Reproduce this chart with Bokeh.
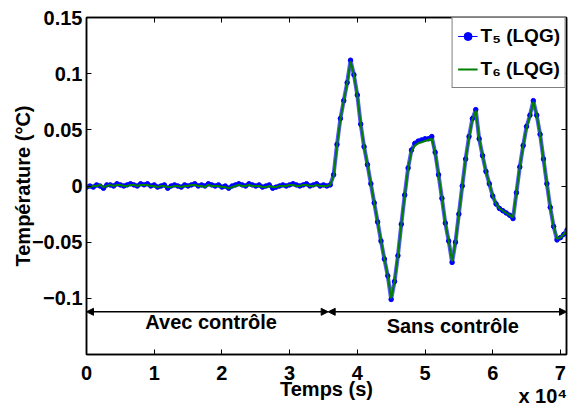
from bokeh.plotting import figure
from bokeh.models import (Label, Arrow, NormalHead, Legend, LegendItem,
                          LinearAxis, FixedTicker, ColumnDataSource)
from bokeh.embed import file_html
from bokeh.resources import INLINE

# ---------------- data ----------------
sample_step_s = 500  # one sample every 500 s

# T5 (LQG) : 0 .. 36000 s (with control), then 36500 .. 71000 s (without)
T5_with_control = [
    -0.001, 0.000, -0.001, 0.001, 0.000, -0.002, 0.001, 0.001, 0.000, 0.002,
    0.001, 0.000, 0.001, 0.002, 0.001, 0.000, 0.002, 0.001, 0.002, 0.000,
    0.001, -0.001, 0.000, 0.001, -0.002, 0.000, 0.001, 0.000, -0.001, 0.001,
    0.000, 0.001, 0.002, 0.000, 0.001, 0.000, 0.002, 0.001, 0.000, 0.001,
    -0.001, 0.000, -0.002, 0.000, 0.001, 0.002, 0.001, 0.000, 0.002, 0.001,
    0.000, 0.001, -0.001, 0.000, 0.001, -0.002, -0.001, 0.000, 0.001, 0.000,
    0.001, 0.002, 0.001, 0.000, 0.001, 0.002, 0.000, 0.001, 0.002, 0.000,
    0.001, 0.000, 0.001,
]
T5_without_control = [
    0.010, 0.037, 0.060, 0.076, 0.092, 0.112, 0.099, 0.081, 0.055, 0.035,
    0.019, 0.002, -0.015, -0.032, -0.049, -0.065, -0.080, -0.101, -0.085, -0.062,
    -0.034, -0.008, 0.016, 0.032, 0.038, 0.040, 0.041, 0.042, 0.042, 0.044,
    0.030, 0.010, -0.011, -0.033, -0.049, -0.068, -0.050, -0.025, 0.000, 0.024,
    0.044, 0.060, 0.068, 0.042, 0.027, 0.013, 0.002, -0.009, -0.016, -0.020,
    -0.022, -0.024, -0.026, -0.029, -0.006, 0.017, 0.036, 0.053, 0.063, 0.076,
    0.063, 0.046, 0.024, 0.002, -0.019, -0.036, -0.048, -0.046, -0.043, -0.039,
]

T6_with_control = [
    0.000, -0.001, 0.000, 0.000, 0.001, -0.001, 0.000, 0.001, 0.000, 0.001,
    0.001, 0.000, 0.000, 0.001, 0.001, 0.000, 0.001, 0.001, 0.001, 0.000,
    0.000, -0.001, 0.000, 0.000, -0.001, -0.001, 0.000, 0.000, -0.001, 0.000,
    0.000, 0.001, 0.001, 0.000, 0.000, -0.001, 0.001, 0.000, 0.000, 0.000,
    -0.001, -0.001, -0.002, -0.001, 0.000, 0.001, 0.000, 0.000, 0.001, 0.000,
    0.000, 0.000, -0.001, -0.001, 0.000, -0.001, -0.001, 0.000, 0.000, 0.000,
    0.001, 0.001, 0.000, 0.000, 0.001, 0.001, 0.000, 0.000, 0.001, 0.000,
    0.000, 0.000, 0.001,
]
T6_without_control = [
    0.009, 0.036, 0.059, 0.076, 0.091, 0.111, 0.099, 0.080, 0.055, 0.035,
    0.019, 0.002, -0.015, -0.032, -0.049, -0.065, -0.080, -0.100, -0.085, -0.062,
    -0.034, -0.009, 0.015, 0.031, 0.036, 0.038, 0.039, 0.040, 0.041, 0.042,
    0.029, 0.010, -0.011, -0.033, -0.049, -0.067, -0.050, -0.025, 0.000, 0.024,
    0.043, 0.059, 0.067, 0.042, 0.027, 0.013, 0.002, -0.009, -0.016, -0.020,
    -0.022, -0.024, -0.026, -0.028, -0.006, 0.017, 0.036, 0.052, 0.062, 0.075,
    0.063, 0.046, 0.024, 0.002, -0.019, -0.036, -0.047, -0.046, -0.043, -0.039,
]

T5 = T5_with_control + T5_without_control
T6 = T6_with_control + T6_without_control
time_s = [sample_step_s * i for i in range(len(T5))]

x_tick_values = [0, 10000, 20000, 30000, 40000, 50000, 60000, 70000]
x_tick_labels = ["0", "1", "2", "3", "4", "5", "6", "7"]
y_tick_values = [-0.1, -0.05, 0, 0.05, 0.1, 0.15]
y_tick_labels = ["\u22120.1", "\u22120.05", "0", "0.05", "0.1", "0.15"]

x_limits = (0, 70900)
y_limits = (-0.15, 0.15)

control_switch_s = 35700
arrow_level = -0.112
region_labels = ["Avec contr\u00f4le", "Sans contr\u00f4le"]
region_label_x = [18400, 54100]
region_label_y = [-0.1215, -0.1245]

series_labels = ["T\u2085 (LQG)", "T\u2086 (LQG)"]
x_title = "Temps (s)"
x_scale_note = "x 10\u2074"
x_scale_note_at = 67400
y_title = "Temp\u00e9rature (\u00b0C)"

# ---------------- figure ----------------
FONT = "Liberation Sans"
FS = "20px"

p = figure(width=568, height=409, x_range=x_limits, y_range=y_limits,
           output_backend="svg", toolbar_location=None, title=None,
           min_border_left=86, min_border_right=2, min_border_top=17,
           min_border_bottom=54)
p.xgrid.visible = False
p.ygrid.visible = False
p.outline_line_color = "black"
p.outline_line_width = 1.5
p.background_fill_color = "white"
p.border_fill_color = "white"

src = ColumnDataSource(dict(t=time_s, T5=T5, T6=T6))
halo = p.line("t", "T5", source=src, line_color="#2020ff", line_width=4,
              line_alpha=0.75)
l5 = p.line("t", "T5", source=src, line_color="#0000ff", line_width=1)
s5 = p.scatter("t", "T5", source=src, size=4.5, fill_color="#0000ff",
               line_color="#0000ff")
l6 = p.line("t", "T6", source=src, line_color="#008000", line_width=2)

axis_text = dict(major_label_text_font=FONT,
                 major_label_text_font_style="bold",
                 major_label_text_font_size=FS,
                 major_label_text_color="black",
                 axis_label_text_font=FONT,
                 axis_label_text_font_style="bold",
                 axis_label_text_font_size=FS,
                 axis_label_text_color="black")

xa = p.xaxis[0]
ya = p.yaxis[0]
for ax, ticks, labels in ((xa, x_tick_values, x_tick_labels),
                          (ya, y_tick_values, y_tick_labels)):
    ax.ticker = FixedTicker(ticks=ticks)
    ax.major_label_overrides = dict(zip(ticks, labels))
    ax.minor_tick_line_color = None
    ax.major_tick_in = 5
    ax.major_tick_out = 0
    ax.major_tick_line_color = "black"
    ax.axis_line_color = "black"
    ax.axis_line_width = 1.5
    ax.update(**axis_text)

xa.major_label_standoff = 11
xa.axis_label = x_title
xa.axis_label_standoff = -5
ya.major_label_standoff = 4
ya.axis_label = y_title
ya.axis_label_standoff = -5

top = LinearAxis(ticker=FixedTicker(ticks=x_tick_values))
right = LinearAxis(ticker=FixedTicker(ticks=y_tick_values))
for ax in (top, right):
    ax.minor_tick_line_color = None
    ax.major_tick_in = 5
    ax.major_tick_out = 0
    ax.major_tick_line_color = "black"
    ax.axis_line_color = "black"
    ax.axis_line_width = 1.5
    ax.major_label_text_font_size = "1px"
    ax.major_label_text_alpha = 0
    ax.major_label_standoff = 0
p.add_layout(top, "above")
p.add_layout(right, "right")

# "x 10^4" scale note under the right end of the x axis
note = LinearAxis(ticker=FixedTicker(ticks=[x_scale_note_at]))
note.major_label_overrides = {x_scale_note_at: x_scale_note}
note.axis_line_color = None
note.major_tick_line_color = None
note.minor_tick_line_color = None
note.major_tick_out = 0
note.major_tick_in = 0
note.update(**axis_text)
note.major_label_standoff = -18
p.add_layout(note, "below")

# region arrows
fmt = dict(text_font=FONT, text_font_style="bold", text_font_size=FS,
           text_color="black")
for x0, x1 in [(x_limits[0], control_switch_s), (control_switch_s, x_limits[1])]:
    p.add_layout(Arrow(x_start=x0, y_start=arrow_level, x_end=x1, y_end=arrow_level,
                       line_color="black", line_width=1.5,
                       start=NormalHead(size=7, fill_color="black", line_color="black"),
                       end=NormalHead(size=7, fill_color="black", line_color="black")))
for txt, lx, ly in zip(region_labels, region_label_x, region_label_y):
    p.add_layout(Label(x=lx, y=ly, text=txt, text_align="center",
                       text_baseline="middle", **fmt))

legend = Legend(items=[LegendItem(label=series_labels[0], renderers=[l5, s5]),
                       LegendItem(label=series_labels[1], renderers=[l6])],
                location="top_right", margin=0, padding=5, spacing=7,
                glyph_width=20, glyph_height=26, label_height=26,
                label_standoff=3, border_line_color="black",
                border_line_width=1.5, background_fill_color="white",
                background_fill_alpha=1.0,
                label_text_font=FONT, label_text_font_style="bold",
                label_text_font_size="19px", label_text_color="black")
p.add_layout(legend)

open("out.html", "w").write(file_html(p, INLINE))
